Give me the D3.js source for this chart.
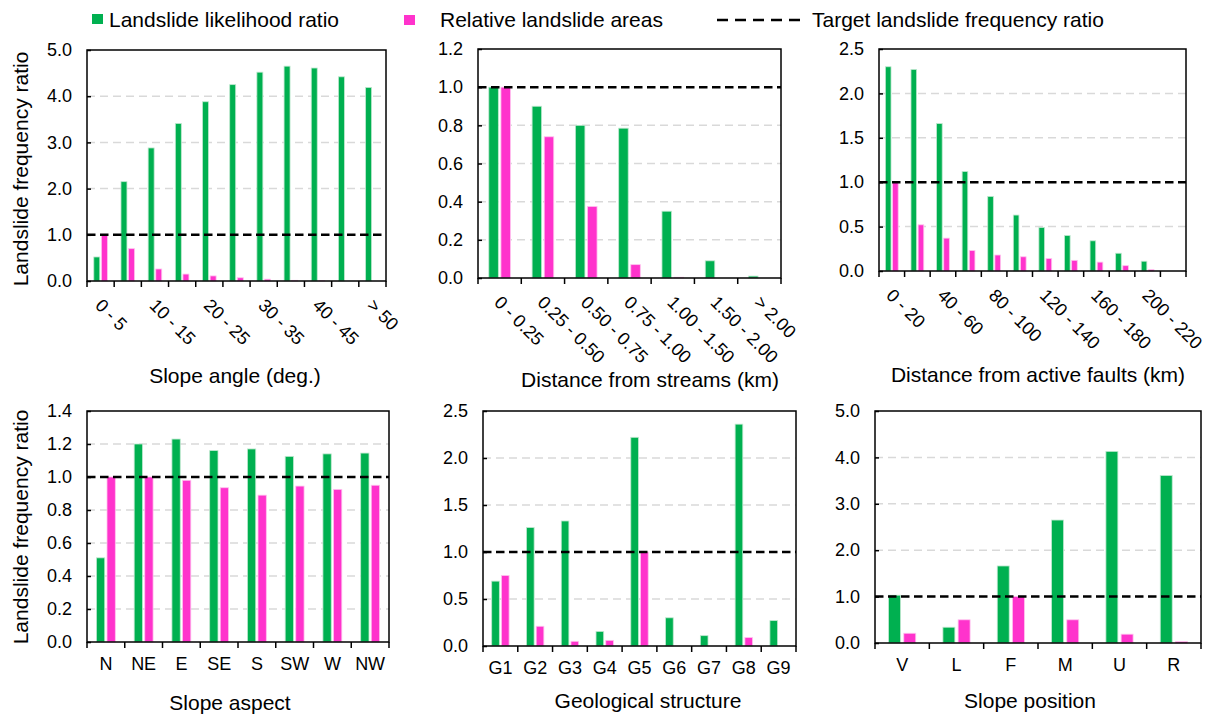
<!DOCTYPE html>
<html><head><meta charset="utf-8">
<script src="https://cdn.jsdelivr.net/npm/d3@7"></script>
<style>
body{margin:0;background:#fff}
text{font-family:"Liberation Sans",Arial,sans-serif;fill:#000}
</style>
</head><body>
<svg id="c" width="1212" height="715"></svg>
<script>
// ---------- DATA ----------
const seriesNames = ["Landslide likelihood ratio", "Relative landslide areas", "Target landslide frequency ratio"];
const targetRatio = 1.0;

const slopeAngleCats = ["0 - 5","5 - 10","10 - 15","15 - 20","20 - 25","25 - 30","30 - 35","35 - 40","40 - 45","45 - 50","> 50"];
const slopeAngleLR   = [0.52, 2.15, 2.88, 3.41, 3.88, 4.25, 4.52, 4.65, 4.61, 4.42, 4.19];
const slopeAngleRA   = [1.00, 0.70, 0.26, 0.15, 0.11, 0.07, 0.04, 0.015, 0.005, 0, 0];
const slopeAngleTicks = [0, 1, 2, 3, 4, 5];

const streamCats = ["0 - 0.25","0.25 - 0.50","0.50 - 0.75","0.75 - 1.00","1.00 - 1.50","1.50 - 2.00","> 2.00"];
const streamLR   = [1.00, 0.90, 0.80, 0.785, 0.35, 0.09, 0.01];
const streamRA   = [1.00, 0.74, 0.375, 0.07, 0.004, 0, 0];
const streamTicks = [0, 0.2, 0.4, 0.6, 0.8, 1.0, 1.2];

const faultCats = ["0 - 20","20 - 40","40 - 60","60 - 80","80 - 100","100 - 120","120 - 140","140 - 160","160 - 180","180 - 200","200 - 220","> 220"];
const faultLR   = [2.30, 2.27, 1.66, 1.12, 0.84, 0.63, 0.49, 0.40, 0.34, 0.20, 0.11, 0];
const faultRA   = [1.00, 0.52, 0.37, 0.23, 0.18, 0.16, 0.14, 0.12, 0.10, 0.06, 0.015, 0];
const faultTicks = [0, 0.5, 1.0, 1.5, 2.0, 2.5];

const aspectCats = ["N","NE","E","SE","S","SW","W","NW"];
const aspectLR   = [0.51, 1.20, 1.23, 1.16, 1.17, 1.125, 1.14, 1.145];
const aspectRA   = [1.00, 1.00, 0.98, 0.935, 0.89, 0.945, 0.925, 0.95];
const aspectTicks = [0, 0.2, 0.4, 0.6, 0.8, 1.0, 1.2, 1.4];

const geoCats = ["G1","G2","G3","G4","G5","G6","G7","G8","G9"];
const geoLR   = [0.69, 1.26, 1.33, 0.155, 2.22, 0.30, 0.11, 2.36, 0.27];
const geoRA   = [0.75, 0.21, 0.05, 0.06, 1.00, 0, 0, 0.09, 0];
const geoTicks = [0, 0.5, 1.0, 1.5, 2.0, 2.5];

const positionCats = ["V","L","F","M","U","R"];
const positionLR   = [1.03, 0.34, 1.66, 2.65, 4.13, 3.61];
const positionRA   = [0.21, 0.50, 1.00, 0.50, 0.19, 0.03];
const positionTicks = [0, 1, 2, 3, 4, 5];

const xTitles = ["Slope angle (deg.)","Distance from streams (km)","Distance from active faults (km)","Slope aspect","Geological structure","Slope position"];
const yTitle = "Landslide frequency ratio";

// ---------- LAYOUT ----------
const GREEN = "#00B050", PINK = "#FF33CC";
const svg = d3.select("#c");

const panels = [
  {cats:slopeAngleCats, lr:slopeAngleLR, ra:slopeAngleRA, ticks:slopeAngleTicks, fmt:".1f",
   x0:87, x1:386, y0:50, y1:281, every:2, rot:true, title:xTitles[0], tx:235, ty:383, yt:true, ytc:169},
  {cats:streamCats, lr:streamLR, ra:streamRA, ticks:streamTicks, fmt:".1f",
   x0:478, x1:781, y0:49, y1:278, every:1, rot:true, title:xTitles[1], tx:650, ty:387},
  {cats:faultCats, lr:faultLR, ra:faultRA, ticks:faultTicks, fmt:".1f",
   x0:879, x1:1186, y0:49, y1:271, every:2, rot:true, title:xTitles[2], tx:1038, ty:382},
  {cats:aspectCats, lr:aspectLR, ra:aspectRA, ticks:aspectTicks, fmt:".1f",
   x0:87, x1:389, y0:411, y1:642, every:1, rot:false, title:xTitles[3], tx:230, ty:710, yt:true, ytc:527},
  {cats:geoCats, lr:geoLR, ra:geoRA, ticks:geoTicks, fmt:".1f",
   x0:483, x1:796, y0:411, y1:646, every:1, rot:false, title:xTitles[4], tx:648, ty:708},
  {cats:positionCats, lr:positionLR, ra:positionRA, ticks:positionTicks, fmt:".1f",
   x0:875, x1:1201, y0:411, y1:643, every:1, rot:false, title:xTitles[5], tx:1030, ty:708}
];

panels.forEach(p => {
  const g = svg.append("g");
  const ymax = d3.max(p.ticks);
  const x = d3.scaleBand().domain(p.cats).range([p.x0, p.x1]).padding(0);
  const y = d3.scaleLinear().domain([0, ymax]).range([p.y1, p.y0]);
  const W = x.bandwidth();

  // gridlines
  g.append("g").selectAll("line").data(p.ticks.filter(t => t > 0 && t < ymax)).join("line")
    .attr("x1", p.x0).attr("x2", p.x1)
    .attr("y1", d => y(d)).attr("y2", d => y(d))
    .attr("stroke", "#d9d9d9").attr("stroke-width", 1.5).attr("stroke-dasharray", "8,5");

  // bars
  g.append("g").selectAll("rect").data(p.cats).join("rect")
    .attr("x", d => x(d) + 0.25 * W).attr("width", 0.22 * W)
    .attr("y", (d, i) => y(p.lr[i])).attr("height", (d, i) => y(0) - y(p.lr[i]))
    .attr("fill", GREEN).attr("stroke", "#bfe8cf").attr("stroke-width", 0.8);
  g.append("g").selectAll("rect").data(p.cats).join("rect")
    .attr("x", d => x(d) + 0.53 * W).attr("width", 0.22 * W)
    .attr("y", (d, i) => y(p.ra[i])).attr("height", (d, i) => y(0) - y(p.ra[i]))
    .attr("fill", PINK).attr("stroke", "#ffc2ee").attr("stroke-width", 0.8);

  // target line
  g.append("line").attr("x1", p.x0).attr("x2", p.x1)
    .attr("y1", y(targetRatio)).attr("y2", y(targetRatio))
    .attr("stroke", "#000").attr("stroke-width", 2.5).attr("stroke-dasharray", "8.5,4.5");

  // frame
  g.append("rect").attr("x", p.x0).attr("y", p.y0)
    .attr("width", p.x1 - p.x0).attr("height", p.y1 - p.y0)
    .attr("fill", "none").attr("stroke", "#000").attr("stroke-width", 1.5);

  // y axis
  const ya = g.append("g").attr("transform", `translate(${p.x0},0)`)
    .call(d3.axisLeft(y).tickValues(p.ticks).tickFormat(d3.format(p.fmt)).tickSizeInner(-4).tickSizeOuter(0).tickPadding(15));
  ya.select(".domain").remove();
  ya.selectAll("line").attr("stroke", "#000").attr("stroke-width", 1.5);
  ya.selectAll("text").attr("font-size", 18).attr("font-family", null);

  // x axis boundary ticks
  const bounds = p.cats.map(c => x(c)).concat([p.x1]);
  g.append("g").selectAll("line").data(bounds).join("line")
    .attr("x1", d => d).attr("x2", d => d).attr("y1", p.y1).attr("y2", p.y1 + 6)
    .attr("stroke", "#000").attr("stroke-width", 1.5);

  // x axis labels
  const xa = g.append("g").attr("transform", `translate(0,${p.y1})`)
    .call(d3.axisBottom(x).tickSize(0).tickPadding(15)
      .tickFormat((d, i) => i % p.every === 0 ? d : ""));
  xa.select(".domain").remove();
  xa.selectAll("text").attr("font-size", 18).attr("font-family", null);
  if (p.rot) {
    xa.selectAll("text")
      .attr("x", 0).attr("y", 0).attr("dy", "0.35em")
      .attr("text-anchor", "start")
      .attr("transform", "translate(-2,21) rotate(45)");
  }

  // x title
  g.append("text").attr("x", p.tx).attr("y", p.ty).attr("text-anchor", "middle")
    .attr("font-size", 21).text(p.title);

  if (p.yt) {
    g.append("text").attr("transform", `translate(28,${p.ytc}) rotate(-90)`)
      .attr("text-anchor", "middle").attr("font-size", 21).text(yTitle);
  }
});

// ---------- LEGEND ----------
const lg = svg.append("g");
lg.append("rect").attr("x", 92).attr("y", 14).attr("width", 11).attr("height", 10).attr("fill", GREEN);
lg.append("text").attr("x", 109).attr("y", 26.5).attr("font-size", 21).text(seriesNames[0]);
lg.append("rect").attr("x", 404).attr("y", 15).attr("width", 11).attr("height", 10).attr("fill", PINK);
lg.append("text").attr("x", 440).attr("y", 26.5).attr("font-size", 21).text(seriesNames[1]);
lg.append("line").attr("x1", 717).attr("x2", 803).attr("y1", 20).attr("y2", 20)
  .attr("stroke", "#000").attr("stroke-width", 2.5).attr("stroke-dasharray", "11,7");
lg.append("text").attr("x", 812).attr("y", 26.5).attr("font-size", 21).text(seriesNames[2]);
</script>
</body></html>
